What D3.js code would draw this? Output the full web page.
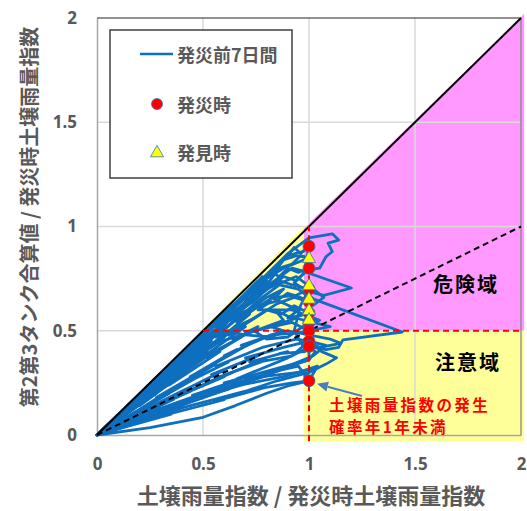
<!DOCTYPE html>
<html>
<head>
<meta charset="utf-8">
<script src="https://cdn.jsdelivr.net/npm/d3@7"></script>
<style>
  html, body { margin: 0; padding: 0; background: #fff; }
  svg { display: block; }
  text { font-family: "Noto Sans CJK JP", "Noto Sans", sans-serif; }
</style>
</head>
<body>
<svg id="chart" width="527" height="511"></svg>
<script>
// Axis ticks
const tickValues = [0, 0.5, 1, 1.5, 2];
const xTickLabels = ["0", "0.5", "1", "1.5", "2"];
const yTickLabels = ["0", "0.5", "1", "1.5", "2"];

// Ratio at disaster time (x = 1) and at discovery time
const disasterY = [0.905, 0.80, 0.70, 0.64, 0.585, 0.54, 0.50, 0.45, 0.425, 0.26];
const discoveryY = [0.85, 0.72, 0.655, 0.60, 0.555];

// 7-day trajectories before each disaster: [soil index ratio, tank 2+3 ratio]
const traj1 = [[0,0],[0.12,0.115],[0.08,0.075],[0.3,0.285],[0.24,0.225],[0.47,0.45],[0.4,0.385],[0.66,0.63],[0.6,0.56],[0.8,0.77],[0.9,0.87],[1.0,0.945],[1.11,0.965],[1.14,0.935],[1.09,0.92],[1.11,0.88],[1.08,0.855],[1.05,0.80],[0.98,0.79],[1.0,0.905]];
const traj2 = [[0,0],[0.18,0.16],[0.12,0.1],[0.38,0.33],[0.3,0.26],[0.58,0.52],[0.52,0.46],[0.76,0.7],[0.7,0.64],[0.92,0.8],[0.96,0.79],[1.2,0.705],[1.07,0.67],[0.99,0.69],[0.93,0.73],[1.0,0.80]];
const traj3 = [[0,0],[0.22,0.17],[0.16,0.12],[0.42,0.33],[0.36,0.29],[0.62,0.5],[0.56,0.47],[0.78,0.66],[0.86,0.72],[0.95,0.7],[1.0,0.66],[1.44,0.494],[1.16,0.456],[1.14,0.42],[1.08,0.41],[0.97,0.43],[0.93,0.5],[0.96,0.62],[1.0,0.70]];
const traj4 = [[0,0],[0.26,0.22],[0.2,0.17],[0.48,0.41],[0.41,0.36],[0.68,0.6],[0.63,0.55],[0.84,0.74],[0.8,0.7],[0.94,0.76],[1.02,0.7],[1.07,0.66],[0.99,0.6],[1.0,0.64]];
const traj5 = [[0,0],[0.3,0.22],[0.22,0.17],[0.52,0.4],[0.46,0.36],[0.72,0.58],[0.66,0.55],[0.86,0.68],[0.82,0.66],[0.95,0.6],[0.9,0.56],[1.0,0.585]];
const traj6 = [[0,0],[0.14,0.13],[0.1,0.09],[0.34,0.31],[0.28,0.25],[0.5,0.46],[0.55,0.5],[0.7,0.62],[0.64,0.57],[0.82,0.64],[0.76,0.6],[0.92,0.6],[1.05,0.55],[1.0,0.54]];
const traj7 = [[0,0],[0.34,0.2],[0.27,0.16],[0.56,0.34],[0.5,0.31],[0.74,0.45],[0.68,0.43],[0.88,0.5],[0.82,0.52],[0.94,0.56],[1.1,0.52],[1.0,0.50]];
const traj8 = [[0,0],[0.2,0.19],[0.15,0.14],[0.38,0.36],[0.33,0.3],[0.5,0.47],[0.46,0.42],[0.6,0.5],[0.7,0.48],[0.82,0.47],[0.9,0.5],[1.1,0.46],[1.15,0.44],[1.05,0.42],[1.0,0.45]];
const traj9 = [[0,0],[0.36,0.17],[0.3,0.15],[0.6,0.28],[0.54,0.26],[0.78,0.36],[0.72,0.35],[0.9,0.4],[0.86,0.39],[0.98,0.4],[1.0,0.425]];
const traj10 = [[0,0],[0.25,0.035],[0.5,0.085],[0.65,0.14],[0.8,0.2],[0.9,0.235],[1.0,0.26]];
const traj11 = [[0,0],[0.4,0.14],[0.35,0.125],[0.7,0.25],[0.62,0.23],[0.9,0.33],[1.02,0.38],[1.08,0.43],[1.0,0.45]];
const traj12 = [[0,0],[0.45,0.17],[0.38,0.15],[0.75,0.28],[0.7,0.27],[0.95,0.3],[1.04,0.33],[1.0,0.26]];
const traj13 = [[0,0],[0.1,0.1],[0.07,0.068],[0.2,0.195],[0.16,0.15],[0.28,0.27],[0.24,0.22],[0.44,0.42],[0.38,0.35],[0.55,0.52],[0.5,0.49],[0.7,0.66],[0.75,0.72],[0.88,0.8],[1.0,0.85]];
const traj14 = [[0,0],[0.16,0.12],[0.12,0.09],[0.28,0.2],[0.22,0.17],[0.4,0.28],[0.34,0.24],[0.58,0.4],[0.52,0.37],[0.76,0.52],[0.7,0.49],[0.92,0.54],[1.0,0.5]];
const traj15 = [[0,0],[0.3,0.13],[0.25,0.11],[0.5,0.2],[0.45,0.19],[0.68,0.27],[0.6,0.25],[0.85,0.32],[1.0,0.36],[1.03,0.4],[0.98,0.44],[1.0,0.425]];
const traj16 = [[0,0],[0.2,0.06],[0.4,0.13],[0.55,0.17],[0.7,0.21],[0.85,0.26],[1.0,0.3],[1.08,0.34],[1.13,0.37],[1.06,0.4],[1.0,0.45]];
const traj17 = [[0,0],[0.05,0.05],[0.03,0.029],[0.15,0.145],[0.11,0.105],[0.26,0.25],[0.21,0.2],[0.36,0.35],[0.31,0.295],[0.5,0.485],[0.45,0.43],[0.64,0.62],[0.58,0.55],[0.78,0.76],[0.72,0.68],[0.9,0.86],[0.97,0.88],[1.0,0.905]];
const traj18 = [[0,0],[0.12,0.085],[0.09,0.065],[0.25,0.18],[0.2,0.14],[0.4,0.29],[0.33,0.24],[0.55,0.4],[0.48,0.36],[0.7,0.52],[0.62,0.48],[0.85,0.63],[0.93,0.66],[1.0,0.64]];
const traj19 = [[0,0],[0.2,0.12],[0.15,0.09],[0.35,0.22],[0.28,0.18],[0.5,0.31],[0.44,0.28],[0.66,0.41],[0.6,0.38],[0.82,0.48],[0.95,0.49],[1.0,0.50]];
const traj20 = [[0,0],[0.24,0.13],[0.18,0.1],[0.42,0.22],[0.36,0.19],[0.6,0.31],[0.54,0.29],[0.76,0.38],[0.7,0.37],[0.88,0.42],[1.0,0.45]];
const traj21 = [[0,0],[0.3,0.11],[0.24,0.09],[0.5,0.18],[0.44,0.165],[0.7,0.26],[0.64,0.245],[0.86,0.31],[0.95,0.33],[1.0,0.26]];
const traj22 = [[0,0],[0.08,0.075],[0.05,0.047],[0.18,0.17],[0.14,0.13],[0.33,0.31],[0.27,0.25],[0.52,0.5],[0.58,0.56],[0.64,0.6],[0.7,0.67],[0.76,0.7],[0.82,0.78],[0.86,0.76],[0.9,0.8],[0.95,0.78],[1.0,0.80]];
const traj23 = [[0,0],[0.1,0.08],[0.07,0.06],[0.22,0.18],[0.17,0.14],[0.36,0.3],[0.3,0.25],[0.54,0.45],[0.48,0.41],[0.66,0.56],[0.72,0.6],[0.8,0.66],[0.88,0.7],[0.84,0.66],[0.94,0.67],[1.0,0.70]];
const traj24 = [[0,0],[0.14,0.1],[0.1,0.075],[0.3,0.22],[0.24,0.18],[0.44,0.34],[0.38,0.3],[0.6,0.47],[0.66,0.52],[0.74,0.56],[0.8,0.6],[0.87,0.58],[0.93,0.62],[1.0,0.585]];
const traj25 = [[0,0],[0.06,0.055],[0.04,0.036],[0.16,0.15],[0.12,0.11],[0.22,0.21],[0.19,0.175],[0.4,0.38],[0.35,0.33],[0.56,0.53],[0.6,0.58],[0.68,0.64],[0.74,0.7],[0.8,0.72],[0.86,0.8],[0.92,0.82],[0.96,0.86],[1.0,0.85]];
const traj26 = [[0,0],[0.35,0.1],[0.3,0.09],[0.6,0.17],[0.55,0.16],[0.8,0.23],[0.75,0.22],[0.92,0.25],[1.0,0.26]];
const traj27 = [[0,0],[0.28,0.1],[0.22,0.08],[0.5,0.19],[0.46,0.18],[0.72,0.29],[0.66,0.27],[0.9,0.37],[0.96,0.4],[1.0,0.425]];
const traj28 = [[0,0],[0.22,0.18],[0.17,0.14],[0.32,0.26],[0.27,0.22],[0.46,0.37],[0.4,0.33],[0.6,0.46],[0.56,0.44],[0.74,0.5],[0.8,0.46],[0.9,0.47],[1.0,0.54]];
const traj29 = [[0,0],[0.18,0.11],[0.14,0.085],[0.32,0.19],[0.27,0.16],[0.46,0.27],[0.4,0.24],[0.62,0.35],[0.56,0.33],[0.78,0.42],[0.86,0.44],[0.94,0.46],[1.0,0.45]];
const traj30 = [[0,0],[0.1,0.095],[0.08,0.072],[0.2,0.18],[0.26,0.245],[0.22,0.2],[0.32,0.3],[0.42,0.4],[0.38,0.36],[0.48,0.46],[0.62,0.58],[0.56,0.52],[0.72,0.64],[0.8,0.74],[0.76,0.68],[0.86,0.74],[0.92,0.72],[1.0,0.70]];
const traj31 = [[0,0],[0.15,0.148],[0.1,0.098],[0.3,0.295],[0.25,0.24],[0.45,0.44],[0.4,0.39],[0.6,0.59],[0.66,0.64],[0.72,0.66],[0.78,0.74],[0.84,0.8],[0.9,0.86],[0.93,0.9],[0.96,0.87],[1.0,0.905]];
const traj32 = [[0,0],[0.2,0.17],[0.15,0.13],[0.4,0.34],[0.34,0.29],[0.56,0.49],[0.62,0.57],[0.68,0.62],[0.64,0.58],[0.74,0.64],[0.82,0.72],[0.78,0.68],[0.88,0.76],[0.94,0.74],[1.0,0.80]];
const traj33 = [[0,0],[0.24,0.2],[0.18,0.15],[0.42,0.37],[0.5,0.45],[0.58,0.5],[0.62,0.55],[0.7,0.58],[0.66,0.54],[0.76,0.62],[0.84,0.64],[0.9,0.68],[0.96,0.66],[1.0,0.64]];
const traj34 = [[0,0],[0.32,0.12],[0.27,0.1],[0.55,0.2],[0.5,0.19],[0.72,0.25],[0.68,0.24],[0.88,0.28],[0.95,0.3],[1.02,0.32],[0.98,0.28],[1.0,0.26]];
const traj35 = [[0,0],[0.38,0.15],[0.33,0.13],[0.62,0.22],[0.58,0.215],[0.82,0.29],[0.78,0.28],[0.94,0.34],[1.0,0.36],[1.0,0.425]];
const traj36 = [[0,0],[0.26,0.13],[0.2,0.1],[0.44,0.21],[0.38,0.19],[0.64,0.3],[0.58,0.28],[0.8,0.36],[0.76,0.35],[0.92,0.38],[1.0,0.45]];
const traj37 = [[0,0],[0.14,0.11],[0.1,0.08],[0.26,0.2],[0.2,0.16],[0.38,0.29],[0.32,0.25],[0.52,0.38],[0.46,0.35],[0.68,0.47],[0.64,0.46],[0.8,0.52],[0.88,0.55],[0.84,0.6],[0.92,0.56],[1.0,0.585]];
const traj38 = [[0,0],[0.09,0.087],[0.06,0.058],[0.19,0.185],[0.15,0.145],[0.3,0.29],[0.26,0.25],[0.42,0.41],[0.36,0.35],[0.54,0.52],[0.5,0.48],[0.64,0.62],[0.7,0.68],[0.76,0.74],[0.82,0.76],[0.88,0.84],[0.94,0.86],[1.0,0.85]];
const trajectories = [traj1, traj2, traj3, traj4, traj5, traj6, traj7, traj8, traj9, traj10,
  traj11, traj12, traj13, traj14, traj15, traj16, traj17, traj18, traj19, traj20,
  traj21, traj22, traj23, traj24, traj25, traj26, traj27, traj28, traj29, traj30,
  traj31, traj32, traj33, traj34, traj35, traj36, traj37, traj38];

// Shaded zones (data coordinates)
const dangerZone = [[0.975,0.5],[0.975,0.99],[2.015,2.02],[2.015,0.5]];
const cautionZoneLeft = [[0.49,0.5],[0.975,1.0],[0.975,0.5]];
const cautionZoneRight = [[0.975,-0.03],[0.975,0.5],[2.015,0.5],[2.015,-0.03]];

const svg = d3.select("#chart");
const x = d3.scaleLinear().domain([0, 2]).range([97, 521]);
const y = d3.scaleLinear().domain([0, 2]).range([435, 18]);
const line = d3.line().x(d => x(d[0])).y(d => y(d[1]));

const BLUE = "#0f6fbf";
const GRAY_TEXT = "#595959";

// zones
svg.append("path").attr("d", line(dangerZone) + "Z").attr("fill", "#ff99ff");
svg.append("path").attr("d", line(cautionZoneLeft) + "Z").attr("fill", "#ffff99");
svg.append("path").attr("d", line(cautionZoneRight) + "Z").attr("fill", "#ffff99");

// gridlines
const grid = svg.append("g").attr("stroke", "#d9d9d9").attr("stroke-width", 1.5);
tickValues.filter(v => v > 0 && v < 2).forEach(v => {
  grid.append("line").attr("x1", x(v)).attr("x2", x(v)).attr("y1", y(0)).attr("y2", y(2));
  grid.append("line").attr("x1", x(0)).attr("x2", x(2)).attr("y1", y(v)).attr("y2", y(v));
});

// axes
const xAxis = d3.axisBottom(x).tickValues(tickValues).tickSize(0).tickPadding(23)
  .tickFormat((d, i) => xTickLabels[i]);
const yAxis = d3.axisLeft(y).tickValues(tickValues).tickSize(0).tickPadding(20)
  .tickFormat((d, i) => yTickLabels[i]);
const gx = svg.append("g").attr("transform", `translate(0,${y(0)})`).call(xAxis);
const gy = svg.append("g").attr("transform", `translate(${x(0)},0)`).call(yAxis);
[gx, gy].forEach(g => {
  g.select(".domain").attr("stroke", "#a6a6a6").attr("stroke-width", 1.5);
  g.selectAll("text").attr("fill", GRAY_TEXT).attr("font-size", 17).attr("font-weight", "bold")
    .style("font-family", "'Noto Sans', 'DejaVu Sans', sans-serif");
});
gx.selectAll("text").attr("dy", "0.71em");

// plot frame top and right
svg.append("line").attr("x1", x(0)).attr("x2", x(2)).attr("y1", y(2)).attr("y2", y(2))
  .attr("stroke", "#262626").attr("stroke-width", 1.2);
svg.append("line").attr("x1", x(2)).attr("x2", x(2)).attr("y1", y(2)).attr("y2", y(0))
  .attr("stroke", "#7f7f7f").attr("stroke-width", 1.2);

// trajectories
svg.append("g").selectAll("path").data(trajectories).join("path")
  .attr("d", line).attr("fill", "none").attr("stroke", BLUE)
  .attr("stroke-width", 2.8).attr("stroke-linejoin", "round").attr("stroke-linecap", "round");

// reference lines
svg.append("path").attr("d", line([[0,0],[2,2]])).attr("stroke", "#000").attr("stroke-width", 2);
svg.append("path").attr("d", line([[0,0],[2,1]])).attr("stroke", "#000").attr("stroke-width", 2)
  .attr("stroke-dasharray", "6,4");
svg.append("path").attr("d", line([[1,-0.03],[1,1]])).attr("stroke", "#ff0000").attr("stroke-width", 2)
  .attr("stroke-dasharray", "6,4");
svg.append("path").attr("d", line([[0.5,0.5],[2,0.5]])).attr("stroke", "#ff0000").attr("stroke-width", 2)
  .attr("stroke-dasharray", "6,4");

// disaster points
svg.append("g").selectAll("circle").data(disasterY).join("circle")
  .attr("cx", x(1)).attr("cy", d => y(d)).attr("r", 6)
  .attr("fill", "#ff0000").attr("stroke", "#2e75b6").attr("stroke-width", 0.8);

// discovery points
const tri = d3.symbol().type(d3.symbolTriangle).size(75);
svg.append("g").selectAll("path").data(discoveryY).join("path")
  .attr("d", tri).attr("transform", d => `translate(${x(1)},${y(d) + 1})`)
  .attr("fill", "#ffff00").attr("stroke", "#2e75b6").attr("stroke-width", 0.8);

// zone labels
svg.append("text").attr("x", 466).attr("y", 283).attr("text-anchor", "middle").attr("dominant-baseline", "central")
  .attr("font-size", 20).attr("font-weight", "bold").attr("letter-spacing", 2).attr("fill", "#000").text("危険域");
svg.append("text").attr("x", 468).attr("y", 361).attr("text-anchor", "middle").attr("dominant-baseline", "central")
  .attr("font-size", 20).attr("font-weight", "bold").attr("letter-spacing", 2).attr("fill", "#000").text("注意域");

// annotation
svg.append("text").attr("x", 329).attr("y", 404).attr("dominant-baseline", "central")
  .attr("font-size", 15.5).attr("font-weight", "bold").attr("letter-spacing", 2.4).attr("fill", "#ff0000")
  .text("土壌雨量指数の発生");
svg.append("text").attr("x", 329).attr("y", 426).attr("dominant-baseline", "central")
  .attr("font-size", 15.5).attr("font-weight", "bold").attr("letter-spacing", 2.4).attr("fill", "#ff0000")
  .text("確率年1年未満");
const ax0 = 362, ay0 = 396, ax1 = x(1) + 8, ay1 = y(0.26) + 3;
const ang = Math.atan2(ay1 - ay0, ax1 - ax0);
const headLen = 11, headW = 5;
const bx = ax1 - headLen * Math.cos(ang), by = ay1 - headLen * Math.sin(ang);
svg.append("line").attr("x1", ax0).attr("y1", ay0).attr("x2", bx).attr("y2", by)
  .attr("stroke", "#4a7ebb").attr("stroke-width", 2);
svg.append("path")
  .attr("d", `M${ax1},${ay1}L${bx - headW * Math.sin(ang)},${by + headW * Math.cos(ang)}L${bx + headW * Math.sin(ang)},${by - headW * Math.cos(ang)}Z`)
  .attr("fill", "#4a7ebb");

// legend
const lg = svg.append("g");
lg.append("rect").attr("x", 110).attr("y", 30).attr("width", 182).attr("height", 148)
  .attr("fill", "#fff").attr("stroke", "#404040").attr("stroke-width", 1.5);
lg.append("line").attr("x1", 140).attr("x2", 173).attr("y1", 54).attr("y2", 54)
  .attr("stroke", BLUE).attr("stroke-width", 2.6);
lg.append("circle").attr("cx", 157).attr("cy", 104).attr("r", 5.5)
  .attr("fill", "#ff0000").attr("stroke", "#2e75b6").attr("stroke-width", 0.8);
lg.append("path").attr("d", tri).attr("transform", "translate(157,153)")
  .attr("fill", "#ffff00").attr("stroke", "#2e75b6").attr("stroke-width", 0.8);
[["発災前7日間", 54], ["発災時", 104], ["発見時", 152]].forEach(([t, yy]) => {
  lg.append("text").attr("x", 177).attr("y", yy).attr("dominant-baseline", "central")
    .attr("font-size", 18).attr("font-weight", "bold").attr("fill", GRAY_TEXT).text(t);
});

// axis titles
svg.append("text").attr("x", 311).attr("y", 494).attr("text-anchor", "middle").attr("dominant-baseline", "central")
  .attr("font-size", 22).attr("font-weight", "bold").attr("fill", GRAY_TEXT)
  .text("土壌雨量指数 / 発災時土壌雨量指数");
svg.append("text").attr("transform", "translate(28,217) rotate(-90)").attr("text-anchor", "middle")
  .attr("dominant-baseline", "central")
  .attr("font-size", 20).attr("font-weight", "bold").attr("fill", GRAY_TEXT)
  .text("第2第3タンク合算値 / 発災時土壌雨量指数");
</script>
</body>
</html>
